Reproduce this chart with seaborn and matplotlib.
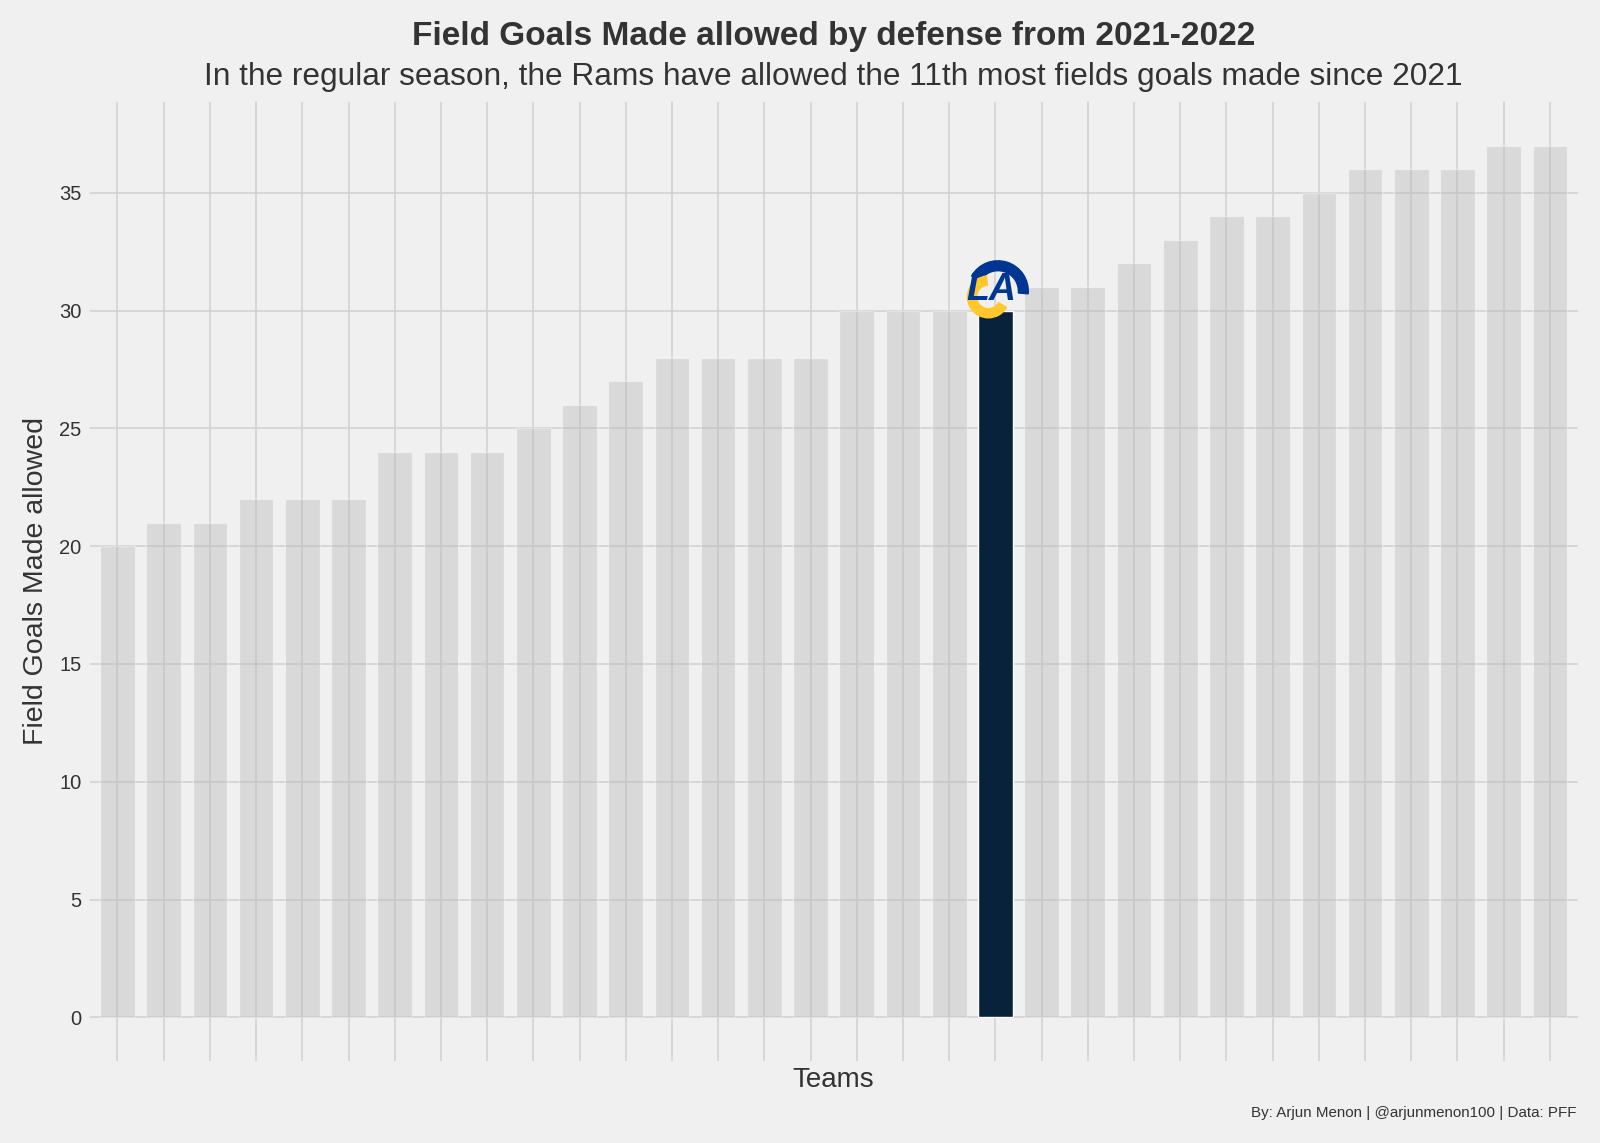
import numpy as np
import pandas as pd
import seaborn as sns
import matplotlib.pyplot as plt
from matplotlib.patches import Wedge

# %% data

teams = ["T%02d" % i for i in range(1, 33)]
teams[19] = "LA"
fgm_allowed = [20, 21, 21, 22, 22, 22, 24, 24, 24, 25, 26, 27, 28, 28, 28, 28,
               30, 30, 30, 30, 31, 31, 32, 33, 34, 34, 35, 36, 36, 36, 37, 37]
highlight = "LA"

df = pd.DataFrame({"team": teams, "fgm": fgm_allowed})
df["is_rams"] = df["team"] == highlight

# %% plot

sns.set_theme(style="whitegrid")
plt.rcParams["font.family"] = ["Liberation Sans", "DejaVu Sans"]

bg = "#f0f0f0"
fig = plt.figure(figsize=(16, 11.43), dpi=100, facecolor=bg)
ax = fig.add_axes([0.0561, 0.0717, 0.9299, 0.8391])
ax.set_facecolor(bg)

sns.barplot(data=df, x="team", y="fgm", hue="is_rams",
            palette={False: "#b8b8b8", True: "#002244"},
            width=0.75, legend=False, ax=ax, zorder=2)
for p in ax.patches:
    if p.get_facecolor()[0] > 0.5:
        p.set_alpha(0.4)

ax.set_xlim(-0.6, len(teams) - 0.4)
ax.set_ylim(-1.85, 38.85)
ax.set_yticks([0, 5, 10, 15, 20, 25, 30, 35])
ax.set_xticks(range(len(teams)))
ax.set_xticklabels([])
ax.grid(True, color="#d2d2d2", linewidth=1.2, zorder=1)
ax.set_axisbelow(True)
for s in ax.spines.values():
    s.set_visible(False)
ax.tick_params(axis="both", length=0, labelsize=14.5, colors="#333333", pad=6)

ax.set_xlabel("")
ax.set_ylabel("")
fig.text(0.521, 0.055, "Teams", fontsize=20, color="#333333",
         ha="center", va="center")
fig.text(0.0225, 0.492, "Field Goals Made allowed", rotation=90, fontsize=20.5,
         color="#333333", ha="center", va="center")

fig.text(0.521, 0.968, "Field Goals Made allowed by defense from 2021-2022",
         fontsize=24, fontweight="bold", color="#333333", ha="center", va="center")
fig.text(0.521, 0.933,
         "In the regular season, the Rams have allowed the 11th most fields goals made since 2021",
         fontsize=22.8, color="#333333", ha="center", va="center")
fig.text(0.9855, 0.026, "By: Arjun Menon | @arjunmenon100 | Data: PFF",
         fontsize=10.9, color="#333333", ha="right", va="center")

# %% rams logo (drawn approximation) on top of the highlighted bar

i = teams.index(highlight)
fig.canvas.draw()
xd, yd = ax.transData.transform((i, fgm_allowed[i] + 0.9))
fx, fy = fig.transFigure.inverted().transform((xd, yd))
w, h = 76 / 1600, 76 / 1143
lax = fig.add_axes([fx - w / 2 - 0.002, fy - h / 2, w, h])
lax.set_xlim(-1, 1)
lax.set_ylim(-1, 1)
lax.axis("off")
lax.add_patch(Wedge((0.15, -0.05), 0.8, -5, 150, width=0.26, color="#003594"))
lax.add_patch(Wedge((-0.1, -0.2), 0.55, 95, 330, width=0.24, color="#ffc72c"))
lax.text(-0.02, -0.02, "LA", fontsize=27, fontweight="bold", style="italic",
         color="#003594", ha="center", va="center")

plt.savefig("out.png", dpi=100, facecolor=bg)
plt.close()
